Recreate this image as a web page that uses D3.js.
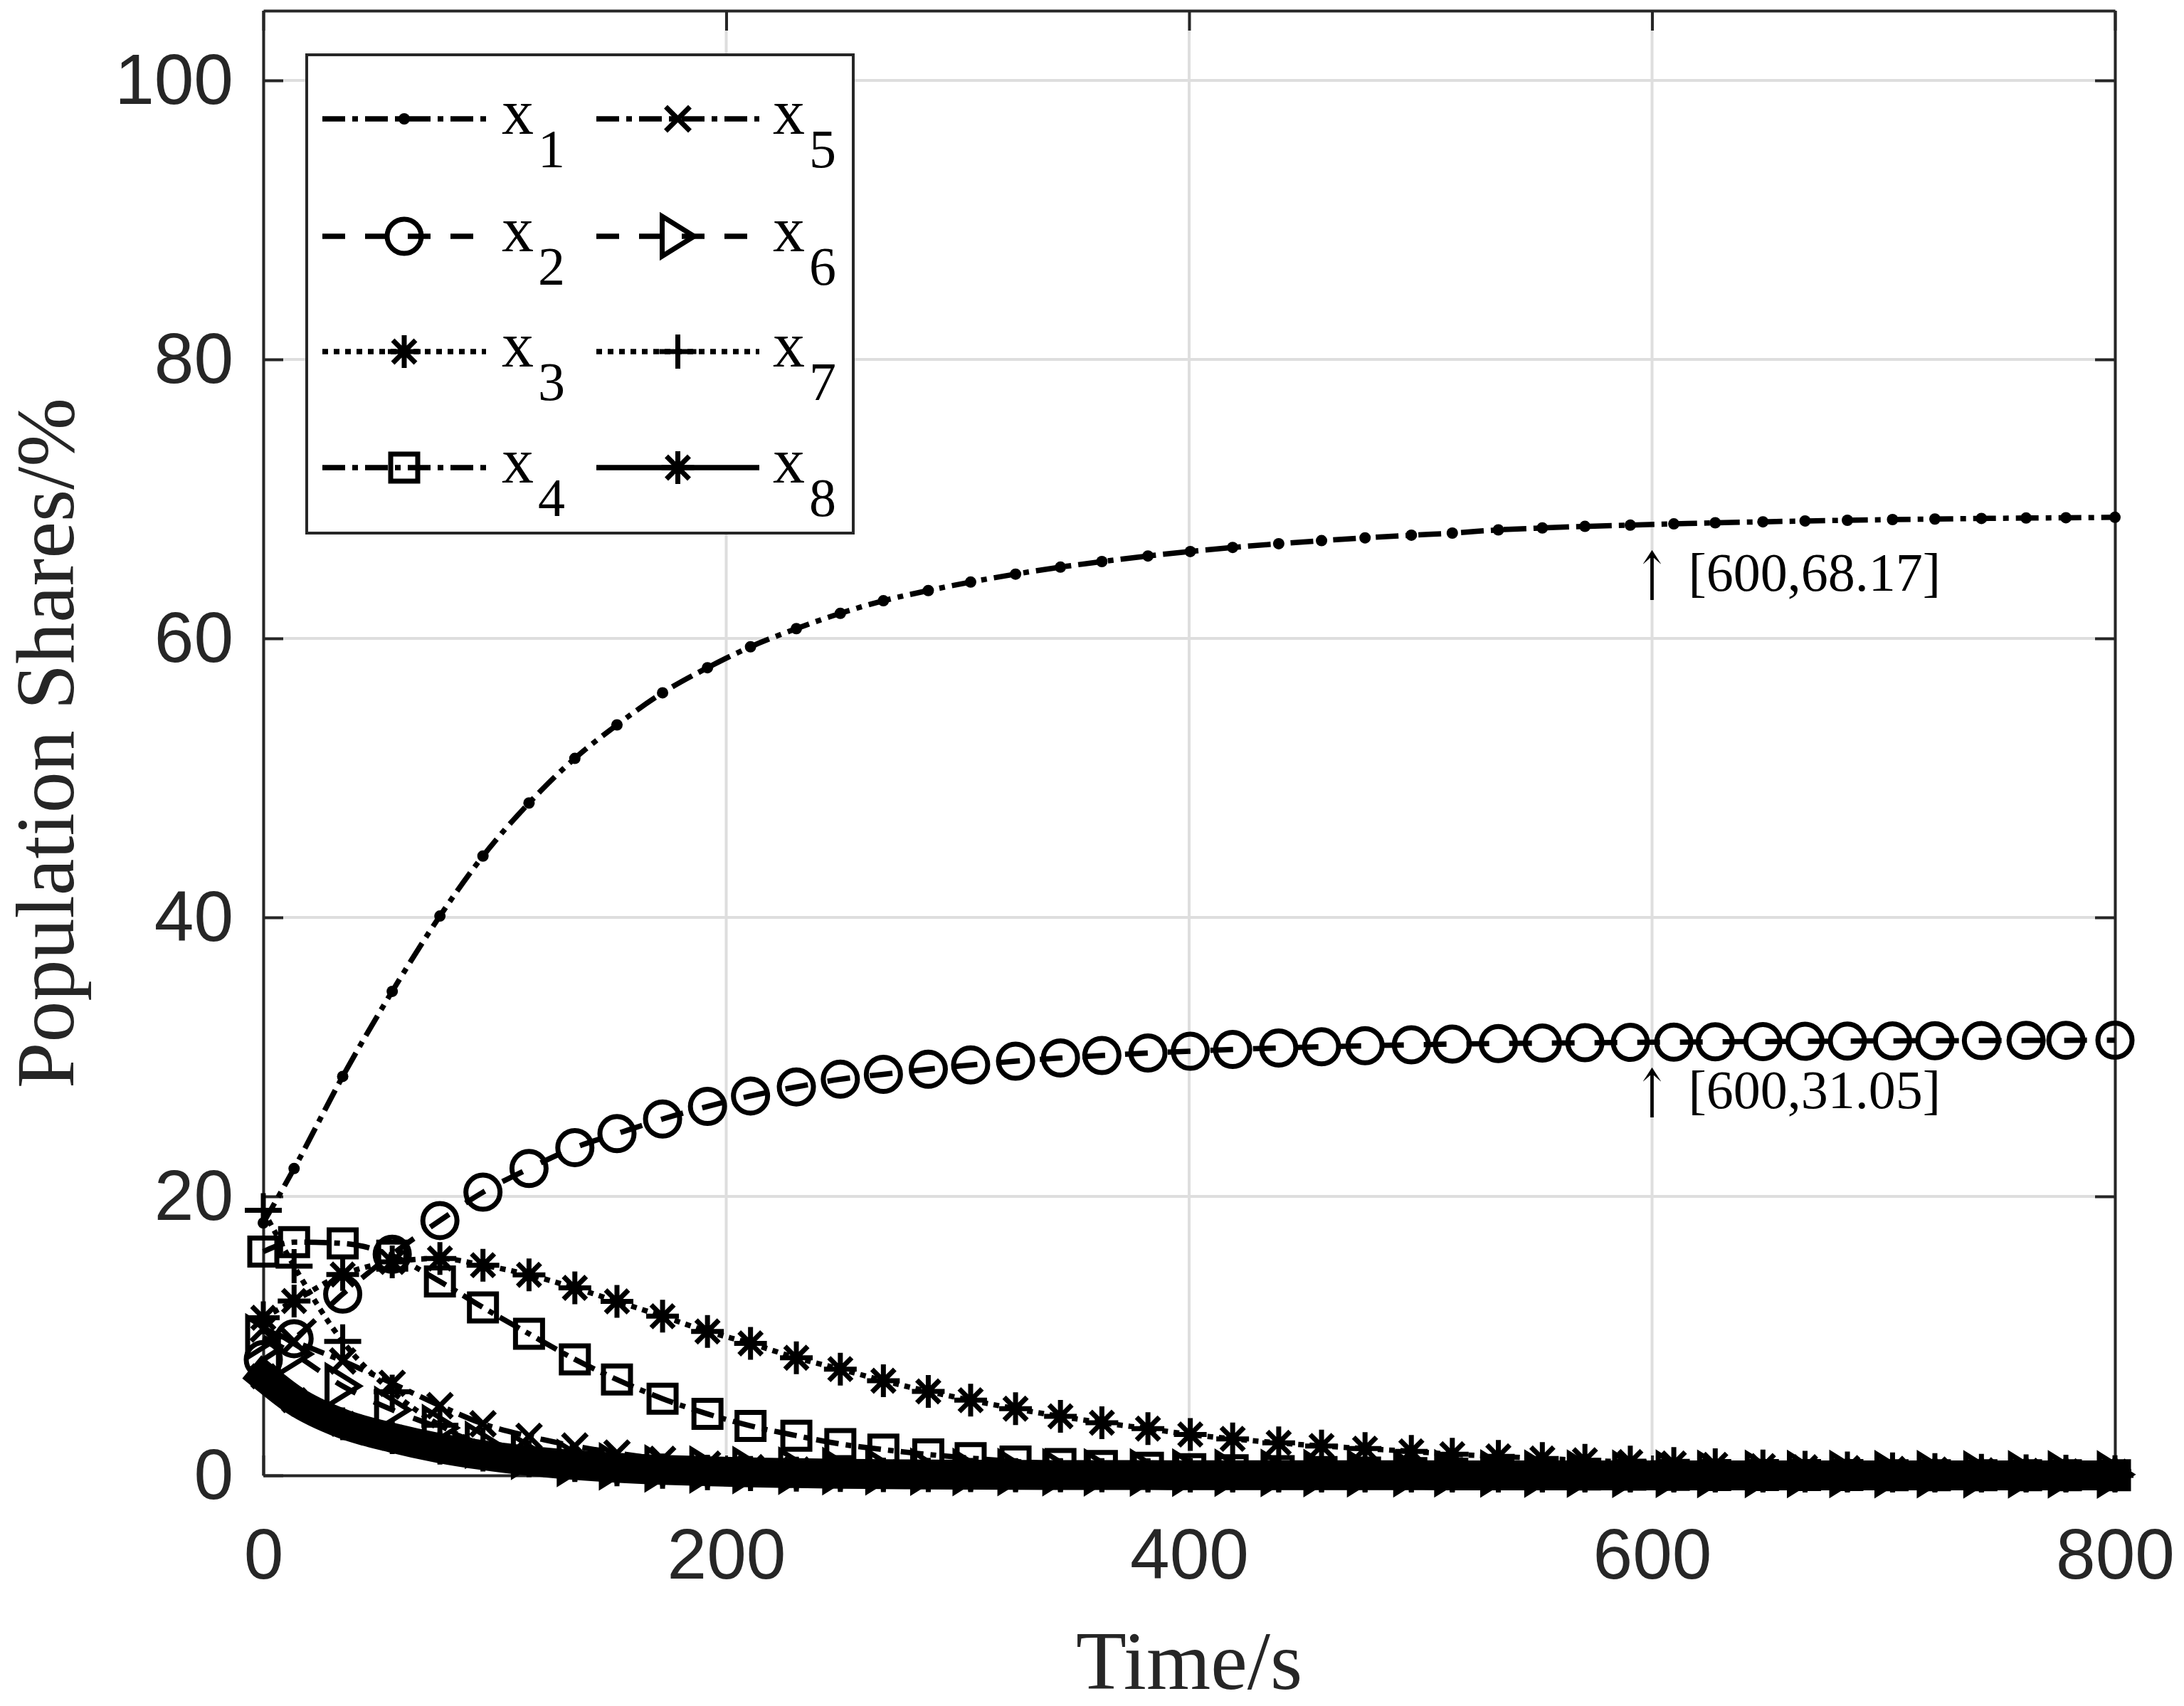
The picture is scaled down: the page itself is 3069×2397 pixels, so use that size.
<!DOCTYPE html>
<html>
<head>
<meta charset="utf-8">
<script src="https://cdn.jsdelivr.net/npm/d3@7.9.0/dist/d3.min.js"></script>
<style>
  html, body { margin: 0; padding: 0; background: #fff; }
  svg { display: block; }
</style>
</head>
<body>
<svg id="chart" width="3069" height="2397"></svg>
<script>
// time of each plotted marker (s)
const times = [0, 13.3, 34.3, 55.7, 76.3, 94.9, 114.8, 134.6, 152.8, 172.5, 191.9, 210.5, 230.3, 249.3, 267.9,
  287.3, 305.6, 325.0, 344.4, 362.3, 382.2, 400.5, 418.8, 438.7, 457.2, 476.0, 496.0,
  513.7, 533.6, 552.6, 571.0, 590.6, 609.4, 627.3, 647.9, 666.1, 684.4, 703.9, 722.2, 742.3, 761.6, 778.8, 800];

// population shares (%)
const x1 = [18.1, 22.0, 28.6, 34.7, 40.1, 44.4, 48.2, 51.4, 53.8, 56.1, 57.9, 59.4, 60.7, 61.8, 62.7,
  63.43, 64.04, 64.61, 65.11, 65.51, 65.91, 66.23, 66.52, 66.79, 67.01, 67.21, 67.40,
  67.55, 67.78, 67.92, 68.03, 68.12, 68.21, 68.29, 68.36, 68.42, 68.47, 68.52, 68.56, 68.60, 68.63, 68.65, 68.68];
const x2 = [8.3, 9.8, 13.0, 15.85, 18.27, 20.3, 22.0, 23.5, 24.5, 25.55, 26.45, 27.2, 27.85, 28.4, 28.75,
  29.12, 29.42, 29.69, 29.92, 30.10, 30.28, 30.41, 30.53, 30.64, 30.73, 30.80, 30.87,
  30.92, 30.96, 30.99, 31.02, 31.04, 31.06, 31.08, 31.10, 31.12, 31.13, 31.15, 31.16, 31.17, 31.18, 31.19, 31.20];
const x3 = [11.3, 12.5, 14.4, 15.3, 15.55, 15.07, 14.38, 13.44, 12.47, 11.41, 10.32, 9.46, 8.43, 7.62, 6.79,
  6.02, 5.39, 4.78, 4.23, 3.78, 3.35, 2.93, 2.62, 2.33, 2.11, 1.92, 1.72,
  1.52, 1.36, 1.21, 1.08, 0.96, 0.85, 0.76, 0.67, 0.59, 0.53, 0.47, 0.42, 0.37, 0.33, 0.30, 0.27];
const x4 = [16.04, 16.72, 16.63, 15.75, 13.9, 12.04, 10.15, 8.32, 6.87, 5.5, 4.41, 3.55, 2.85, 2.25, 1.85,
  1.5, 1.24, 1.0, 0.82, 0.68, 0.55, 0.45, 0.37, 0.3, 0.24, 0.2, 0.16,
  0.13, 0.1, 0.08, 0.07, 0.05, 0.04, 0.03, 0.03, 0.02, 0.02, 0.01, 0.01, 0.01, 0.01, 0.01, 0.01];
const x5 = [10.5, 9.6, 8.2, 6.6, 5.0, 3.7, 2.8, 2.1, 1.6, 1.15, 0.8, 0.55, 0.38, 0.26, 0.18,
  0.13, 0.09, 0.06, 0.04, 0.03, 0.02, 0.02, 0.01, 0.01, 0.01, 0.01, 0.01,
  0, 0, 0, 0, 0, 0, 0, 0, 0, 0, 0, 0, 0, 0, 0, 0];
const x6 = [9.9, 8.7, 6.4, 4.7, 3.4, 2.2, 1.4, 0.9, 0.65, 0.5, 0.42, 0.38, 0.34, 0.31, 0.29,
  0.27, 0.25, 0.24, 0.23, 0.22, 0.21, 0.2, 0.19, 0.18, 0.17, 0.16, 0.15,
  0.15, 0.14, 0.13, 0.13, 0.12, 0.12, 0.11, 0.11, 0.1, 0.1, 0.09, 0.09, 0.08, 0.08, 0.08, 0.07];
const x7 = [19.0, 15.0, 9.6, 6.0, 3.6, 2.2, 1.3, 0.75, 0.45, 0.27, 0.16, 0.1, 0.06, 0.04, 0.03,
  0.02, 0.02, 0.01, 0.01, 0.01, 0, 0, 0, 0, 0, 0, 0,
  0, 0, 0, 0, 0, 0, 0, 0, 0, 0, 0, 0, 0, 0, 0, 0];
const x8 = [7.1, 5.4, 3.7, 2.7, 1.95, 1.45, 1.05, 0.75, 0.55, 0.4, 0.3, 0.22, 0.16, 0.12, 0.09,
  0.07, 0.05, 0.04, 0.03, 0.02, 0.02, 0.01, 0.01, 0.01, 0.01, 0.01, 0.01,
  0, 0, 0, 0, 0, 0, 0, 0, 0, 0, 0, 0, 0, 0, 0, 0];

const seriesNames = ['1', '2', '3', '4', '5', '6', '7', '8'];
const seriesValues = [x1, x2, x3, x4, x5, x6, x7, x8];

const xTicks = [0, 200, 400, 600, 800];
const yTicks = [0, 20, 40, 60, 80, 100];

// annotations
const noteT = [600, 600];
const noteV = [68.17, 31.05];
const noteText = ['[600,68.17]', '[600,31.05]'];

// line styles (matlab-ish)
const dashes = ['32,10,8,10', '32,28', '8,8', '32,10,8,10', '32,10,8,10', '32,28', '8,8', null];
const markers = ['dot', 'o', 'star', 'sq', 'x', 'tri', 'plus', 'star'];

const ink = '#262626';
const serif = '"Liberation Serif", "Times New Roman", serif';
const sans = '"Liberation Sans", Arial, Helvetica, sans-serif';

const svg = d3.select('#chart');
svg.append('rect').attr('width', 3069).attr('height', 2397).attr('fill', '#fff');

const pL = 370, pR = 2972, pT = 15, pB = 2073;
const x = d3.scaleLinear().domain([0, 800]).range([pL, pR]);
const y = d3.scaleLinear().domain([0, 105]).range([pB, pT]);

// grid
const grid = svg.append('g').attr('stroke', '#dedede').attr('stroke-width', 4);
grid.selectAll('.gx').data(xTicks).join('line')
  .attr('x1', d => x(d)).attr('x2', d => x(d)).attr('y1', pT).attr('y2', pB);
grid.selectAll('.gy').data(yTicks).join('line')
  .attr('y1', d => y(d)).attr('y2', d => y(d)).attr('x1', pL).attr('x2', pR);

// axes, ticks inward on every side
function styleAxis(g) {
  g.attr('font-family', sans).attr('font-size', 100);
  g.selectAll('path.domain').attr('stroke', ink).attr('stroke-width', 4);
  g.selectAll('.tick line').attr('stroke', ink).attr('stroke-width', 4);
  g.selectAll('.tick text').attr('fill', ink);
}
svg.append('g').attr('transform', `translate(0,${pB})`)
  .call(d3.axisBottom(x).tickValues(xTicks).tickSizeInner(-28).tickSizeOuter(0).tickPadding(74))
  .call(styleAxis);
svg.append('g').attr('transform', `translate(0,${pT})`)
  .call(d3.axisTop(x).tickValues(xTicks).tickSizeInner(-28).tickSizeOuter(0).tickFormat(''))
  .call(styleAxis);
svg.append('g').attr('transform', `translate(${pL},0)`)
  .call(d3.axisLeft(y).tickValues(yTicks).tickSizeInner(-28).tickSizeOuter(0).tickPadding(42))
  .call(styleAxis);
svg.append('g').attr('transform', `translate(${pR},0)`)
  .call(d3.axisRight(y).tickValues(yTicks).tickSizeInner(-28).tickSizeOuter(0).tickFormat(''))
  .call(styleAxis);

// axis labels
svg.append('text').attr('x', (pL + pR) / 2).attr('y', 2373)
  .attr('text-anchor', 'middle').attr('font-family', serif).attr('font-size', 116).attr('fill', ink)
  .text('Time/s');
svg.append('text').attr('transform', `translate(103,${(pT + pB) / 2}) rotate(-90)`)
  .attr('text-anchor', 'middle').attr('font-family', serif).attr('font-size', 116).attr('fill', ink)
  .text('Population Shares/%');

// marker shapes
function markerPath(type) {
  switch (type) {
    case 'o': return 'M24,0A24,24 0 1,1 -24,0A24,24 0 1,1 24,0Z';
    case 'star': return 'M0,-23L0,23M-23,0L23,0M-16,-16L16,16M-16,16L16,-16';
    case 'sq': return 'M-19,-19L19,-19L19,19L-19,19Z';
    case 'x': return 'M-17,-17L17,17M-17,17L17,-17';
    case 'tri': return 'M-22,-28L23,0L-22,28Z';
    case 'plus': return 'M-26,0L26,0M0,-24L0,24';
  }
  return '';
}
function drawMarker(g, type, cx, cy) {
  if (type === 'dot') {
    g.append('circle').attr('cx', cx).attr('cy', cy).attr('r', 8).attr('fill', '#000');
  } else {
    g.append('path').attr('d', markerPath(type)).attr('transform', `translate(${cx},${cy})`)
      .attr('fill', 'none').attr('stroke', '#000').attr('stroke-width', 7).attr('stroke-linejoin', 'miter');
  }
}

const line = d3.line().x(d => x(d[0])).y(d => y(d[1])).curve(d3.curveMonotoneX);

seriesValues.forEach((vals, i) => {
  const pts = times.map((t, k) => [t, vals[k]]);
  const g = svg.append('g');
  if (i === 7) {
    // x8: markers on every solver step merge into a thick band
    g.append('path').attr('d', line(pts)).attr('fill', 'none').attr('stroke', '#000')
      .attr('stroke-width', 42).attr('stroke-linecap', 'square').attr('stroke-linejoin', 'round');
  } else {
    g.append('path').attr('d', line(pts)).attr('fill', 'none').attr('stroke', '#000')
      .attr('stroke-width', 7.5).attr('stroke-dasharray', dashes[i]);
  }
  pts.forEach(p => drawMarker(g, markers[i], x(p[0]), y(p[1])));
});

// annotations (tall thin arrow, then the coordinates)
noteT.forEach((t, i) => {
  const bx = x(t), by = y(noteV[i]) + 93;
  svg.append('text').attr('transform', `translate(${bx},${by + 13}) scale(0.8,1.24)`)
    .attr('text-anchor', 'middle')
    .attr('font-family', '"DejaVu Serif", serif').attr('font-size', 76).attr('fill', '#000').text('↑');
  svg.append('text').attr('x', bx + 51).attr('y', by)
    .attr('font-family', serif).attr('font-size', 76).attr('fill', '#000').text(noteText[i]);
});

// legend
const legend = svg.append('g');
legend.append('rect').attr('x', 431).attr('y', 77).attr('width', 768).attr('height', 672)
  .attr('fill', '#fff').attr('stroke', ink).attr('stroke-width', 4);
const rowY = [167, 332, 494, 657];
const colX = [[453, 683, 705], [838, 1067, 1086]];
seriesNames.forEach((name, i) => {
  const c = colX[Math.floor(i / 4)], ry = rowY[i % 4];
  const g = legend.append('g');
  g.append('line').attr('x1', c[0]).attr('x2', c[1]).attr('y1', ry).attr('y2', ry)
    .attr('stroke', '#000').attr('stroke-width', 7.5).attr('stroke-dasharray', dashes[i]);
  drawMarker(g, markers[i], (c[0] + c[1]) / 2, ry);
  const txt = g.append('text').attr('x', c[2]).attr('y', ry + 21)
    .attr('font-family', serif).attr('font-size', 90).attr('fill', '#000');
  txt.append('tspan').text('x');
  txt.append('tspan').attr('dy', 47).attr('dx', 6).attr('font-size', 76).text(name);
});
</script>
</body>
</html>
